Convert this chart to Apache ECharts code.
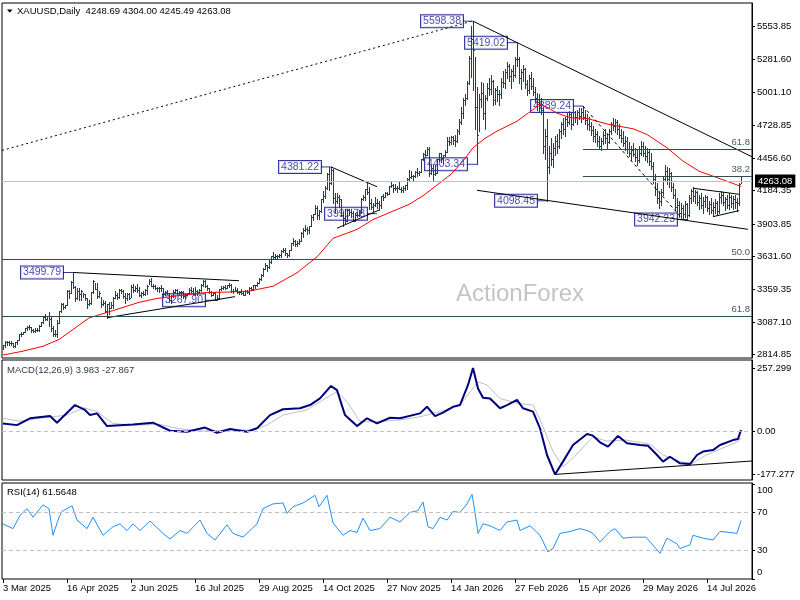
<!DOCTYPE html>
<html>
<head>
<meta charset="utf-8">
<script src="https://cdn.jsdelivr.net/npm/echarts@6/dist/echarts.min.js"></script>
<style>
html,body{margin:0;padding:0;background:#fff;}
#chart{width:800px;height:600px;}
</style>
</head>
<body>
<div id="chart"></div>
<script>
// ---- daily bars (index 0 = 3 Mar 2025) ----
const highs = [
2894,2928,2930,2930,2930,2915,2922,2940,2990,3005,
3004,3038,3057,3058,3047,3029,3034,3032,3060,3087,
3128,3149,3135,3167,3136,3055,3023,3099,3176,3245,
3245,3230,3357,3357,3430,3499.79,3386,3367,3371,3352,
3327,3316,3290,3268,3335,3437,3414,3415,3348,3292,
3266,3265,3240,3253,3250,3296,3345,3325,3365,3365,
3350,3325,3330,3325,3392,3403,3385,3403,3375,3340,
3349,3360,3397,3446,3452,3403,3398,3376,3375,3398,
3368,3342,3350,3329,3309,3350,3365,3365,3345,3344,
3345,3324,3330,3369,3375,3366,3377,3352,3361,3402,
3433,3439,3395,3373,3345,3334,3334,3315,3363,3385,
3390,3392,3399,3409,3400,3358,3375,3374,3345,3358,
3345,3351,3352,3379,3376,3394,3398,3423,3454,
3490,3540,3578,3563,3600,3640,3674,3657,3646,3656,
3685,3703,3707,3665,3688,3749,3791,3775,3761,3782,
3834,3872,3895,3876,3890,3977,3990,4060,4059,4022,
4117,4180,4218,4330,4380,4381.22,4360,4162,4161,4148,
4112,4003,4029,4030,4030,4030,4010,3996,4002,4023,
4118,4148,4196,4245,4211,4110,4082,4132,4110,4100,
4138,4157,4170,4170,4218,4265,4240,4241,4225,4260,
4215,4218,4232,4286,4353,4350,4312,4345,4374,4350,
4450,4498,4525,4550,4550,4398,4400,4400,4450,4500,
4500,4480,4520,4630,4635,4640,
4640,4650,4700,4780,4880,4960,4990,5100,5310,5560,
5598.38,5300,5050,4990,5090,5080,4980,5080,5120,5150,
5110,5040,5060,5020,5120,5180,5200,5260,5240,5200,
5230,5300,5419.02,5300,5200,5230,5210,5110,5150,5170,
5120,5050,5000,4990,4960,4880,4700,4780,4560,4620,
4580,4640,4660,4700,4760,4790,4800,4830,4850,4840,
4860,4850,4860,4870,4870,4889.24,
4860,4820,4800,4760,4720,4700,4680,4640,4620,4680,
4700,4660,4700,4760,4790,4780,4770,4740,4700,4680,
4640,4630,4590,4560,4580,4540,4520,4560,4600,4590,
4560,4540,4530,4500,4420,4320,4250,4180,4200,4300,
4400,4380,4370,4340,4250,4200,4120,4100,4080,4060,
4100,4080,4150,4200,4210,4190,4180,4150,4160,4130,
4150,4140,4100,4120,4090,4110,4100,4160,4180,4170,
4130,4150,4160,4150,4140,4150,4120,4250,4304.00
];
const lows = [
2858,2880,2895,2894,2896,2880,2880,2905,2932,2970,
2982,3000,3023,3029,2999,3000,3006,3011,3014,3054,
3076,3101,3105,3054,3015,2971,2970,2957,3074,3166,
3194,3203,3228,3284,3326,3367,3260,3280,3266,3268,
3292,3268,3202,3228,3237,3325,3365,3290,3291,3208,
3225,3171,3120,3154,3206,3205,3285,3277,3287,3326,
3285,3245,3271,3280,3292,3334,3343,3340,3307,3293,
3309,3310,3321,3402,3383,3366,3363,3347,3340,3347,
3295,3311,3316,3255,3247,3298,3327,3311,3322,3296,
3287,3283,3310,3321,3340,3320,3310,3309,3332,3345,
3383,3381,3351,3325,3301,3309,3267.90,3268,3280,3350,
3358,3363,3367,3380,3340,3331,3345,3332,3323,3323,
3311,3311,3325,3322,3350,3351,3373,3386,3408,
3436,3470,3525,3511,3540,3578,3620,3620,3613,3628,
3630,3671,3646,3627,3634,3684,3733,3717,3722,3740,
3760,3794,3850,3820,3830,3884,3936,3985,3945,3944,
4005,4091,4125,4200,4185,4236,4082,4004,4076,4045,
3971,3886,3916,3929,3976,3963,3930,3929,3965,3975,
3994,4101,4102,4157,4032,4030,4000,4058,4039,4022,
4040,4104,4131,4143,4153,4215,4170,4185,4175,4197,
4170,4169,4185,4195,4266,4290,4270,4297,4308,4315,
4338,4437,4463,4478,4303,4325,4275,4310,4330,4427,
4420,4410,4470,4510,4565,4575,
4570,4560,4590,4660,4740,4790,4900,4950,5070,5130,
5020,4700,4403.34,4680,4880,4780,4700,4940,4980,4990,
4900,4910,4930,4900,4960,5050,5040,5120,5100,5040,
5100,5130,5220,5080,5030,5100,5040,4980,5000,5030,
4980,4920,4860,4840,4820,4500,4450,4098.45,4330,4400,
4380,4480,4500,4540,4620,4660,4640,4720,4740,4700,
4730,4760,4740,4780,4760,4780,
4740,4700,4690,4650,4600,4590,4560,4530,4520,4570,
4580,4540,4580,4660,4690,4670,4660,4620,4590,4560,
4520,4500,4470,4440,4470,4430,4400,4420,4480,4470,
4440,4420,4400,4360,4250,4150,4080,4040,4060,4150,
4260,4240,4210,4180,4120,4020,3990,3960,3950,3950,
3960,3942.23,3970,4080,4100,4080,4060,4030,4040,4000,
4050,4010,3990,4000,3970,4000,3980,4000,4080,4060,
4020,4040,4030,4050,4030,4040,4010,4060,4245.49
];
const closes = [
2893,2918,2920,2910,2910,2888,2917,2934,2988,2984,
3000,3035,3048,3043,3023,3011,3020,3019,3057,3085,
3124,3113,3133,3114,3037,2982,2982,3082,3176,3237,
3210,3230,3342,3327,3424,3381,3288,3349,3319,3344,
3317,3288,3239,3241,3334,3430,3365,3306,3325,3236,
3249,3178,3240,3202,3230,3290,3314,3295,3357,3342,
3301,3288,3317,3289,3380,3353,3374,3352,3310,3325,
3322,3355,3387,3432,3385,3388,3369,3369,3368,3368,
3323,3333,3327,3274,3303,3338,3357,3326,3337,3335,
3301,3313,3325,3355,3344,3324,3347,3339,3350,3397,
3431,3388,3369,3337,3314,3326,3274,3289,3363,3373,
3380,3368,3396,3398,3341,3348,3356,3336,3336,3332,
3315,3348,3339,3372,3365,3393,3397,3416,3448,
3476,3533,3560,3545,3586,3636,3626,3641,3634,3643,
3679,3690,3660,3644,3685,3746,3763,3736,3749,3760,
3833,3858,3866,3857,3886,3960,3985,4040,3976,4017,
4110,4142,4209,4326,4251,4356,4125,4095,4126,4112,
3982,3952,3930,4024,4003,4000,3932,3981,3977,4001,
4115,4128,4194,4171,4084,4046,4067,4078,4077,4065,
4136,4131,4164,4157,4218,4232,4206,4205,4208,4198,
4189,4208,4228,4280,4300,4305,4302,4339,4330,4340,
4444,4489,4480,4532,4332,4370,4320,4330,4445,4495,
4455,4477,4510,4600,4590,4630,
4610,4600,4680,4760,4830,4940,4960,5080,5290,5450,
5360,4880,4650,4950,5000,4830,4960,5040,5030,5100,
4940,5020,4990,4990,5090,5080,5170,5220,5140,5180,
5150,5280,5280,5120,5170,5200,5070,5020,5120,5060,
5010,4960,4920,4900,4860,4560,4640,4380,4500,4450,
4540,4600,4560,4680,4740,4700,4780,4760,4820,4740,
4840,4800,4840,4810,4840,4800,
4770,4740,4720,4690,4640,4660,4600,4560,4600,4650,
4620,4590,4680,4740,4720,4760,4700,4650,4620,4580,
4600,4530,4500,4520,4490,4460,4440,4500,4560,4500,
4470,4510,4430,4390,4280,4200,4120,4100,4170,4280,
4350,4280,4330,4210,4150,4050,4060,4000,4040,3990,
4070,3980,4120,4180,4140,4170,4090,4120,4060,4100,
4130,4040,4070,4020,4050,4080,4010,4130,4150,4090,
4110,4060,4130,4080,4110,4090,4080,4240,4263.08
];

// red moving average: [bar, price]
const maLine = [[0,2810],[10,2843],[20,2884],[28,2940],[35,3024],[43,3120],[52,3166],[60,3208],[68,3250],[77,3283],[85,3300],[92,3316],[102,3333],[112,3336],[123,3344],[135,3385],[147,3497],[157,3630],[165,3785],[177,3859],[185,3942],[195,4012],[203,4068],[210,4140],[217,4230],[224,4320],[230,4429],[235,4541],[241,4620],[247,4680],[257,4763],[265,4860],[268,4905],[272,4880],[277,4830],[284,4791],[292,4786],[302,4740],[308,4721],[315,4700],[322,4652],[332,4541],[340,4430],[348,4346],[355,4304],[362,4262],[369,4218]];

// MACD(12,26,9): [bar, value]
const macdLine = [[0,31],[7,24],[13.5,52],[23.5,61],[27,34],[30,58],[36,106],[41,86],[43.5,65],[47,72],[52,20],[58.5,24],[65,27],[75,34],[83.5,1],[92,-3],[101,14],[107,-7],[113.5,8],[122,-3],[127,11],[133.5,65],[140,89],[148.5,93],[153.5,106],[158.5,133],[164,184],[167,167],[171,65],[177,20],[182,52],[187,31],[193.5,54],[198.5,52],[208.5,72],[212,99],[216,61],[220,75],[225,99],[228.5,106],[232.5,188],[235,257.299],[237.5,174],[240,136],[243.5,133],[248.5,93],[252,106],[257,127],[260,93],[265,79],[268.5,11],[272,-98],[276,-177.277],[280,-125],[285,-57],[292,-12],[295,-19],[298.5,-46],[302.5,-64],[307.5,-20],[312,-50],[318.5,-57],[322.5,-60],[327,-98],[330,-125],[333.5,-105],[338.5,-132],[343.5,-135],[347,-98],[350,-84],[355,-78],[358.5,-57],[365,-37],[367.5,-33],[369,3.983]];
const signalLine = [[0,52],[8.5,40],[18.5,52],[32,65],[40.5,95],[47,79],[55,31],[65,24],[78.5,27],[87,11],[98.5,0],[115,4],[125,4],[132,24],[140,65],[152,86],[160,127],[167,160],[172,120],[178.5,38],[187,38],[198.5,45],[208.5,58],[218.5,79],[228.5,106],[233.5,160],[237.5,201],[242,188],[248.5,133],[257,113],[265,106],[269,38],[275,-84],[280,-146],[286.5,-98],[295,-23],[301.5,-41],[311.5,-37],[323.5,-54],[330,-98],[340,-128],[345,-132],[351.5,-98],[361.5,-64],[367.5,-43],[369,-27.867]];

// RSI(14): [bar, value]
const rsiLine = [[0,58],[5,53],[8.5,67],[12,74],[15,65],[20,78],[23,74],[25,46],[28,65],[29.5,71],[34.5,77],[37,62],[42,53],[45,65],[50,46],[55,55],[58.5,58],[62,51],[65,58],[68.5,51],[73.5,61],[80,48],[83.5,42],[88.5,51],[92,48],[98.5,62],[102,48],[106,41],[112,57],[115,48],[120,44],[127,58],[130,74],[135,79],[140,80],[142,69],[145,76],[150,80],[156,88],[158,76],[162,88],[165,59],[170,46],[173.5,51],[177,49],[180,64],[183.5,51],[188.5,53],[193.5,65],[198.5,60],[203.5,70],[207.5,72],[210,81],[212.5,55],[215,53],[218.5,65],[222,62],[225,71],[228.5,70],[232,79],[234.5,89],[236,70],[237.5,48],[240,58],[243.5,56],[248.5,51],[252,60],[257,62],[258.5,51],[263.5,56],[268.5,46],[272.5,28.5],[275,32],[278.5,48],[283.5,50],[288.5,53],[292,51],[295,48],[298.5,39],[303.5,50],[306,53],[310,43],[315,44],[321.5,44],[328.5,27],[332,43],[337,37],[338.5,32],[343.5,36],[345,46],[350,43],[355,41],[358.5,50],[363.5,49],[367,48],[369,61.5648]];

// axis ticks
const dateTickBars = [0,32,64,96,128,160,192,224,256,288,320,352];
const dateTickLabels = ['3 Mar 2025','16 Apr 2025','2 Jun 2025','16 Jul 2025','29 Aug 2025','14 Oct 2025','27 Nov 2025','14 Jan 2026','27 Feb 2026','15 Apr 2026','29 May 2026','14 Jul 2026'];
const priceTicks = [5553.85,5281.60,5001.10,4728.85,4456.60,4184.35,3903.85,3631.60,3359.35,3087.10,2814.85];
const macdTicks = [257.299,0,-177.277];
const macdTickLabels = ['257.299','0.00','-177.277'];
const rsiTicks = [100,70,30,0];
const rsiLevels = [70,30];

// annotations (bar, price)
const pivotLabels = [[235,5598.38,'5598.38'],[257,5419.02,'5419.02'],[290,4889.24,'4889.24'],[237,4403.34,'4403.34'],[272,4098.45,'4098.45'],[342,3942.23,'3942.23'],[164,4381.22,'4381.22'],[187,3990.78,'3990.78'],[35,3499.79,'3499.79'],[106,3267.90,'3267.90']];
const trendLines = [
  [[235,5598.38],[374.5,4466]],
  [[237,4186],[372.5,3860]],
  [[35,3499.79],[118,3431]],
  [[52,3122],[116,3298]],
  [[164,4381.22],[187,4216]],
  [[167,3869],[188,4021]],
  [[345,4203],[368,4153]],
  [[355,3966],[368,4016]]
];
const dottedLine = [[-0.5,4519],[234.5,5598.38]];
const dashedLine = [[290,4889.24],[339.5,3952]];
const fibLevels = [[3606.5,'50.0',-0.5],[3136.4,'61.8',-0.5],[4527.5,'61.8',290],[4304.0,'38.2',290]];
const lastPrice = 4263.08;
const macdTrend = [[276,-177.277],[374.5,-122.5]];
const header = 'XAUUSD,Daily  4248.69 4304.00 4245.49 4263.08';
const macdTitle = 'MACD(12,26,9) 3.983 -27.867';
const rsiTitle = 'RSI(14) 61.5648';

const FONT = "'Liberation Sans', Arial, sans-serif";
const BAR = '#1a4456';

const barRows = highs.map((h, i) => [i, h, lows[i], closes[i]]);

const markSegs = [];
trendLines.forEach(t => markSegs.push([{coord:t[0], lineStyle:{color:'#000', width:1, type:'solid'}}, {coord:t[1]}]));
markSegs.push([{coord:dottedLine[0], lineStyle:{color:'#000', width:1, type:[2,3]}}, {coord:dottedLine[1]}]);
markSegs.push([{coord:dashedLine[0], lineStyle:{color:'#000', width:1, type:[3,3]}}, {coord:dashedLine[1]}]);
fibLevels.forEach(f => markSegs.push([
  {coord:[f[2], f[0]], lineStyle:{color:'#2f4f4f', width:1, type:'solid'},
   label:{show:true, position:'insideEndTop', formatter:f[1], color:'#4a5866', fontSize:9.5, fontFamily:FONT, distance:2}},
  {coord:[374.5, f[0]]}
]));
markSegs.push({yAxis:lastPrice, lineStyle:{color:'#c0c0c0', width:1, type:'solid'},
  label:{show:true, position:'end', formatter:lastPrice.toFixed(2), backgroundColor:'#000', color:'#fff', fontSize:9.5, fontFamily:FONT, padding:[2,3,1,3], distance:3}});

const chart = echarts.init(document.getElementById('chart'), null, {renderer:'canvas'});
const xBase = {type:'value', min:-0.5, max:374.5, splitLine:{show:false}};
chart.setOption({
  animation:false,
  backgroundColor:'#fff',
  textStyle:{fontFamily:FONT},
  grid:[
    {left:2, top:3, width:750, height:355, show:true, borderColor:'#000', borderWidth:1},
    {left:2, top:360, width:750, height:120, show:true, borderColor:'#000', borderWidth:1},
    {left:2, top:483, width:750, height:96, show:true, borderColor:'#000', borderWidth:1}
  ],
  xAxis:[
    Object.assign({gridIndex:0, show:false}, xBase),
    Object.assign({gridIndex:1, show:false}, xBase),
    Object.assign({gridIndex:2,
      axisLine:{show:false, onZero:false},
      axisTick:{show:true, customValues:dateTickBars, length:4, lineStyle:{color:'#000'}},
      axisLabel:{customValues:dateTickBars, align:'left', margin:4, color:'#000', fontSize:9.5, fontFamily:FONT,
        formatter:v => dateTickLabels[dateTickBars.indexOf(v)] || ''}
    }, xBase)
  ],
  yAxis:[
    {gridIndex:0, type:'value', position:'right', min:2785.62, max:5750.09, splitLine:{show:false},
      axisLine:{show:true, onZero:false, lineStyle:{color:'#000'}},
      axisTick:{show:true, customValues:priceTicks, length:3, lineStyle:{color:'#000'}},
      axisLabel:{customValues:priceTicks, margin:5, color:'#000', fontSize:9.5, fontFamily:FONT, formatter:v => v.toFixed(2)}},
    {gridIndex:1, type:'value', position:'right', min:-200.1, max:290, splitLine:{show:false},
      axisLine:{show:true, onZero:false, lineStyle:{color:'#000'}},
      axisTick:{show:true, customValues:macdTicks, length:3, lineStyle:{color:'#000'}},
      axisLabel:{customValues:macdTicks, margin:5, color:'#000', fontSize:9.5, fontFamily:FONT,
        formatter:v => { let k = 0, d = 1e9; macdTicks.forEach((t,i)=>{ if (Math.abs(t-v)<d){d=Math.abs(t-v);k=i;} }); return macdTickLabels[k]; }}},
    {gridIndex:2, type:'value', position:'right', min:0, max:101, splitLine:{show:false},
      axisLine:{show:true, onZero:false, lineStyle:{color:'#000'}},
      axisTick:{show:true, customValues:rsiTicks, length:3, lineStyle:{color:'#000'}},
      axisLabel:{customValues:rsiTicks, margin:5, color:'#000', fontSize:9.5, fontFamily:FONT,
        formatter:v => v >= 100 ? '{dn|' + v + '}' : (v <= 0 ? '{up|' + v + '}' : String(v)),
        rich:{dn:{padding:[13,0,0,0], fontSize:9.5, color:'#000', fontFamily:FONT}, up:{padding:[0,0,13,0], fontSize:9.5, color:'#000', fontFamily:FONT}}}}
  ],
  graphic:[
    {type:'text', x:520, y:294, z:0, silent:true, style:{text:'ActionForex', fill:'#c4c4c4', font:"24px 'Liberation Sans', Arial, sans-serif", textAlign:'center', textVerticalAlign:'middle'}},
    {type:'polygon', z:10, shape:{points:[[7,9.5],[12.5,9.5],[9.75,12.8]]}, style:{fill:'#000'}},
    {type:'text', x:17, y:11, z:10, style:{text:header, fill:'#000', font:"9.5px 'Liberation Sans', Arial, sans-serif", textVerticalAlign:'middle'}},
    {type:'text', x:7, y:370, z:10, style:{text:macdTitle, fill:'#2e3b48', font:"9.5px 'Liberation Sans', Arial, sans-serif", textVerticalAlign:'middle'}},
    {type:'text', x:7, y:492, z:10, style:{text:rsiTitle, fill:'#000', font:"9.5px 'Liberation Sans', Arial, sans-serif", textVerticalAlign:'middle'}}
  ],
  series:[
    {type:'scatter', xAxisIndex:0, yAxisIndex:0, silent:true, z:1,
      data:pivotLabels, symbol:'rect', symbolSize:[10,1], symbolOffset:[-5,0],
      itemStyle:{color:'#00008b'},
      label:{show:true, position:'left', distance:0, formatter:p => p.data[2], color:'#14149a', fontSize:10.5, fontFamily:FONT,
        backgroundColor:'#fff', borderColor:'#00008b', borderWidth:1, padding:[1,2,0,2]}},
    {type:'custom', xAxisIndex:0, yAxisIndex:0, clip:true, silent:true, z:2,
      encode:{x:0, y:[1,2]}, data:barRows,
      renderItem:(params, api) => {
        const x = api.value(0);
        const pH = api.coord([x, api.value(1)]);
        const pL = api.coord([x, api.value(2)]);
        const pC = api.coord([x, api.value(3)]);
        const px = Math.round(pH[0]) + 0.5;
        const cy = Math.round(pC[1]) + 0.5;
        return {type:'group', children:[
          {type:'line', shape:{x1:px, y1:Math.round(pH[1]), x2:px, y2:Math.round(pL[1]) + 1}, style:{stroke:BAR, lineWidth:1}},
          {type:'line', shape:{x1:px, y1:cy, x2:px + 1.5, y2:cy}, style:{stroke:BAR, lineWidth:1}}
        ]};
      }},
    {type:'line', xAxisIndex:0, yAxisIndex:0, data:maLine, showSymbol:false, symbol:'none', silent:true, z:3,
      lineStyle:{color:'#ff0000', width:1}, smooth:false,
      markLine:{silent:true, symbol:['none','none'], animation:false, label:{show:false}, data:markSegs}},
    {type:'line', xAxisIndex:1, yAxisIndex:1, data:signalLine, showSymbol:false, symbol:'none', silent:true, z:3,
      lineStyle:{color:'#c0c0c0', width:1}},
    {type:'line', xAxisIndex:1, yAxisIndex:1, data:macdLine, showSymbol:false, symbol:'none', silent:true, z:4,
      lineStyle:{color:'#000080', width:2},
      markLine:{silent:true, symbol:['none','none'], label:{show:false}, data:[
        {yAxis:0, lineStyle:{color:'#c0c0c0', type:[4,3], width:1}},
        [{coord:macdTrend[0], lineStyle:{color:'#000', type:'solid', width:1}}, {coord:macdTrend[1]}]
      ]}},
    {type:'line', xAxisIndex:2, yAxisIndex:2, data:rsiLine, showSymbol:false, symbol:'none', silent:true, z:3,
      lineStyle:{color:'#1e90ff', width:1},
      markLine:{silent:true, symbol:['none','none'], label:{show:false},
        data:rsiLevels.map(v => ({yAxis:v, lineStyle:{color:'#c0c0c0', type:[4,3], width:1}}))}}
  ]
});
</script>
</body>
</html>
